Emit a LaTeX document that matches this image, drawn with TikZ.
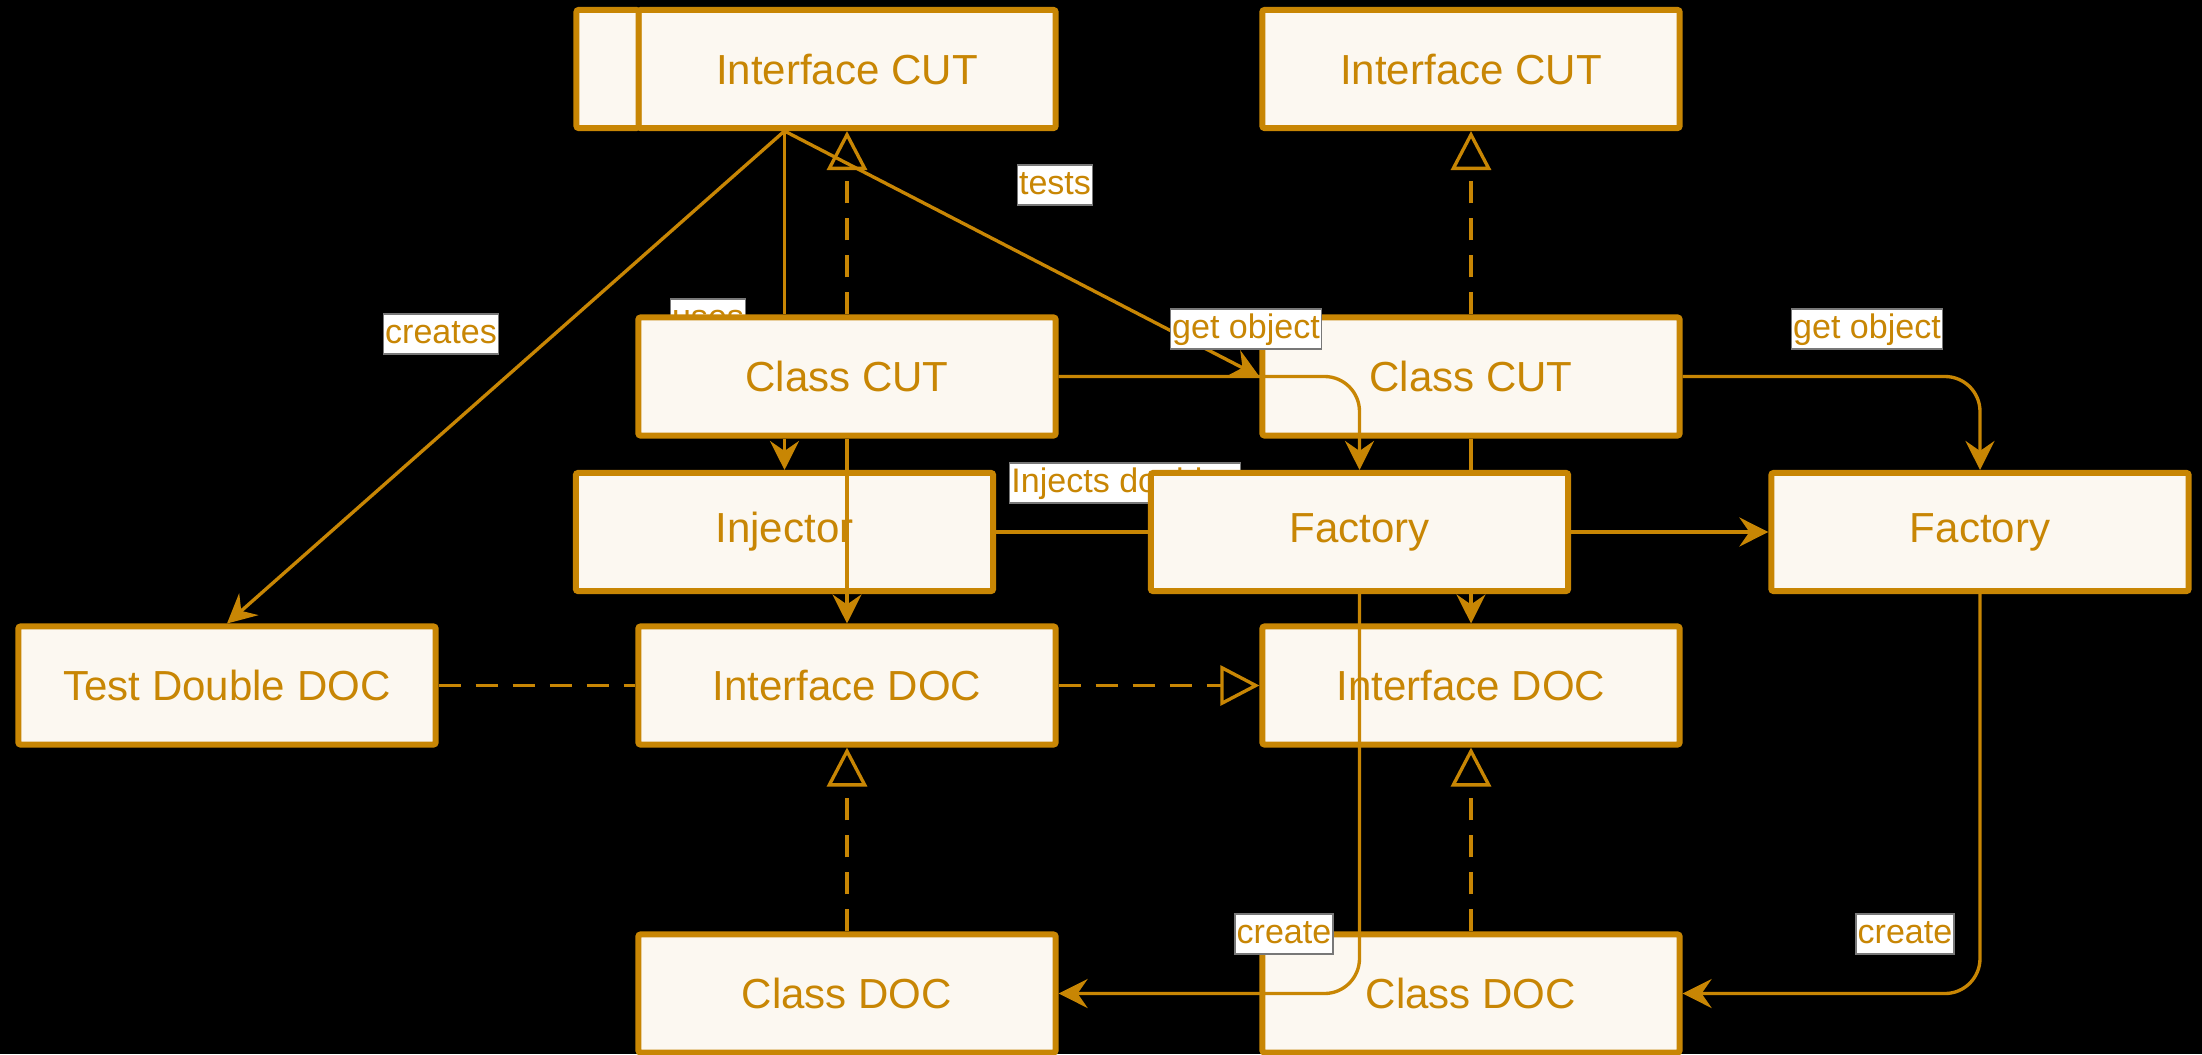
\documentclass[tikz,border=0pt]{standalone}
\usepackage{fontspec}
\setmainfont{Liberation Sans}
\usetikzlibrary{arrows.meta,calc}
\definecolor{umlorange}{RGB}{200,134,4}
\definecolor{umlfill}{RGB}{252,248,241}
\definecolor{tagedge}{RGB}{120,120,120}
\pgfdeclarelayer{under}
\pgfsetlayers{under,main}
\begin{document}
\begin{tikzpicture}[x=0.01cm, y=-0.01cm,
  umlbox/.style={draw=umlorange, fill=umlfill, line width=1.7pt, rounded corners=0.6pt,
    minimum width=4.17cm, minimum height=1.18cm, inner sep=0pt, text=umlorange,
    font=\fontsize{11.95}{14}\selectfont},
  tabbox/.style={umlbox, minimum width=0.62cm},
  edgetag/.style={fill=white, draw=tagedge, line width=0.4pt, text=umlorange,
    font=\fontsize{9.68}{11}\selectfont, inner xsep=0.5pt, inner ysep=0pt,
    minimum height=0.40cm, text height=0.25cm, text depth=0.07cm},
  conn/.style={draw=umlorange, line width=0.95pt},
  toarrow/.style={conn, -{Stealth[length=0.29cm, width=0.29cm, inset=0.1cm]}},
  dashlink/.style={conn, dash pattern=on 0.22cm off 0.15cm},
  realize/.style={dashlink, -{Triangle[open, length=0.39cm, width=0.40cm]}},
]
\useasboundingbox (0,0) rectangle (2202,1054);
\begin{pgfonlayer}{under}
  \fill[black] (0,0) rectangle (2202,1054);
\end{pgfonlayer}

% classes and interfaces
\node[umlbox] (ifcutL) at (847,69) {Interface CUT};
\node[tabbox] (ifcutLtab) at (607.5,69) {};
\node[umlbox] (ifcutR) at (1471,69) {Interface CUT};
\node[umlbox] (cCUTl) at (847,376.5) {Class CUT};
\node[umlbox] (cCUTr) at (1471,376.5) {Class CUT};
\node[umlbox] (inj) at (784.5,532) {Injector};
\node[umlbox] (fM) at (1359.5,532) {Factory};
\node[umlbox] (fR) at (1980,532) {Factory};
\node[umlbox] (td) at (227,685.5) {Test Double DOC};
\node[umlbox] (ifdocL) at (847,685.5) {Interface DOC};
\node[umlbox] (ifdocR) at (1471,685.5) {Interface DOC};
\node[umlbox] (cdocL) at (847,993.5) {Class DOC};
\node[umlbox] (cdocR) at (1471,993.5) {Class DOC};

\coordinate (hub) at (ifcutL.south -| inj.north);

% links running behind the boxes
\begin{pgfonlayer}{under}
  \draw[toarrow] (cCUTr.south) -- (ifdocR.north);
  \node[edgetag] (usesTag) at (708,319) {uses};
  \node[edgetag] (injTag) at (1125,483) {Injects doubles};
\end{pgfonlayer}

% associations
\draw[toarrow] (hub) -- (td.north);
\draw[conn] (hub) -- (hub |- cCUTl.north);
\draw[toarrow] (hub) -- (cCUTr.west);
\draw[toarrow, rounded corners=0.35cm] (cCUTl.east) -| (fM.north);
\draw[toarrow, rounded corners=0.35cm] (cCUTr.east) -| (fR.north);
\draw[toarrow] (cCUTl.south -| inj.north) -- (inj.north);
\draw[toarrow] (cCUTl.south) -- (ifdocL.north);
\draw[conn] (inj.east) -- (fM.west);
\draw[toarrow] (fM.east) -- (fR.west);
\draw[toarrow, rounded corners=0.35cm] (fM.south) |- (cdocL.east);
\draw[toarrow, rounded corners=0.35cm] (fR.south) |- (cdocR.east);

% realizations
\draw[realize] (cCUTl.north) -- (ifcutL.south);
\draw[realize] (cCUTr.north) -- (ifcutR.south);
\draw[realize] (cdocL.north) -- (ifdocL.south);
\draw[realize] (cdocR.north) -- (ifdocR.south);
\draw[realize] (ifdocL.east) -- (ifdocR.west);
\draw[dashlink] (td.east) -- (ifdocL.west);

% link labels
\node[edgetag] (createsTag) at (441,334) {creates};
\node[edgetag] (testsTag) at (1055,185) {tests};
\node[edgetag] (getTagL) at (1246,329) {get object};
\node[edgetag] (getTagR) at (1867,329) {get object};
\node[edgetag] (createTagL) at (1284,934) {create};
\node[edgetag] (createTagR) at (1905,934) {create};
\end{tikzpicture}
\end{document}
